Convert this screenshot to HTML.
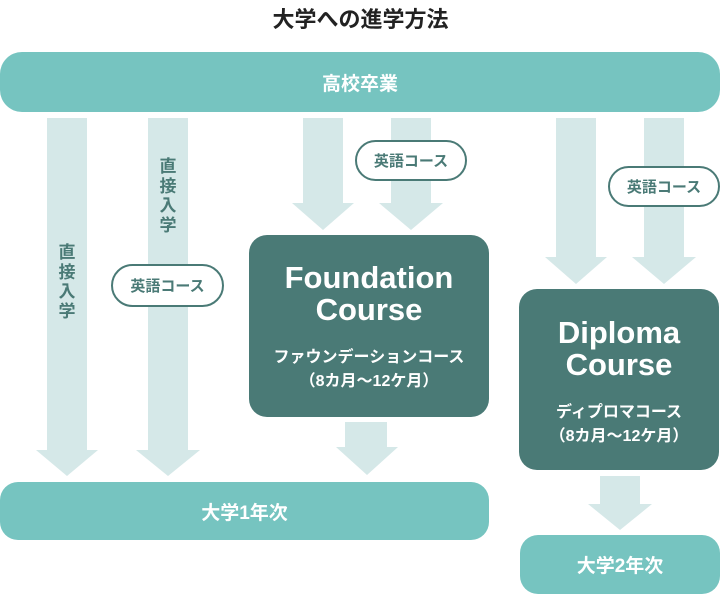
<!DOCTYPE html>
<html><head><meta charset="utf-8"><style>
*{margin:0;padding:0;box-sizing:border-box}
body{width:721px;height:595px;background:#fff;position:relative;overflow:hidden;font-family:"Liberation Sans","Noto Sans CJK JP",sans-serif}
.a{position:absolute}
.bar{position:absolute;background:#76c4c0;color:#fff;font-weight:bold;display:flex;align-items:center;justify-content:center;font-size:19px}
.box{position:absolute;background:#4a7a76;color:#fff;border-radius:18px;text-align:center}
.pill{position:absolute;background:#fff;border:2.5px solid #4a7a76;border-radius:22px;color:#4a7a76;font-weight:bold;font-size:15px;display:flex;align-items:center;justify-content:center}
.vt{position:absolute;color:#4a7a76;font-weight:bold;font-size:17px;line-height:19.5px;width:20px;text-align:center}
.big{font-size:31px;font-weight:bold;line-height:32px}
.sub{font-size:16px;font-weight:bold;line-height:24px;white-space:nowrap}
</style></head><body>
<div class="a" style="left:0;top:2px;width:721px;text-align:center;font-size:22px;font-weight:bold;color:#222">大学への進学方法</div>
<svg class="a" style="left:0;top:0" width="721" height="595">
<g fill="#d5e8e8">
<polygon points="47,118 87,118 87,450 98,450 67,476 36,450 47,450"/>
<polygon points="148,118 188,118 188,450 200,450 168,476 136,450 148,450"/>
<polygon points="303,118 343,118 343,203 354,203 323,230 292,203 303,203"/>
<polygon points="391,118 431,118 431,203 443,203 411,230 379,203 391,203"/>
<polygon points="345,422 387,422 387,447 398,447 367,475 336,447 345,447"/>
<polygon points="556,118 596,118 596,257 607,257 576,284 545,257 556,257"/>
<polygon points="644,118 684,118 684,257 696,257 664,284 632,257 644,257"/>
<polygon points="600,476 640,476 640,504 652,504 620,530 588,504 600,504"/>
</g></svg>
<div class="bar" style="left:0;top:52px;width:720px;height:60px;border-radius:22px">高校卒業</div>
<div class="bar" style="left:0;top:482px;width:489px;height:58px;border-radius:18px">大学1年次</div>
<div class="bar" style="left:520px;top:535px;width:200px;height:59px;border-radius:18px">大学2年次</div>
<div class="box" style="left:249px;top:235px;width:240px;height:182px;padding-top:27px">
<div class="big">Foundation<br>Course</div>
<div class="sub" style="margin-top:20px">ファウンデーションコース<br>（8カ月〜12ケ月）</div></div>
<div class="box" style="left:519px;top:289px;width:200px;height:181px;padding-top:28px">
<div class="big">Diploma<br>Course</div>
<div class="sub" style="margin-top:20px">ディプロマコース<br>（8カ月〜12ケ月）</div></div>
<div class="pill" style="left:355px;top:140px;width:112px;height:41px">英語コース</div>
<div class="pill" style="left:608px;top:166px;width:112px;height:41px">英語コース</div>
<div class="pill" style="left:111px;top:264px;width:113px;height:43px">英語コース</div>
<div class="vt" style="left:57px;top:243px">直接入学</div>
<div class="vt" style="left:158px;top:157px">直接入学</div>
</body></html>
